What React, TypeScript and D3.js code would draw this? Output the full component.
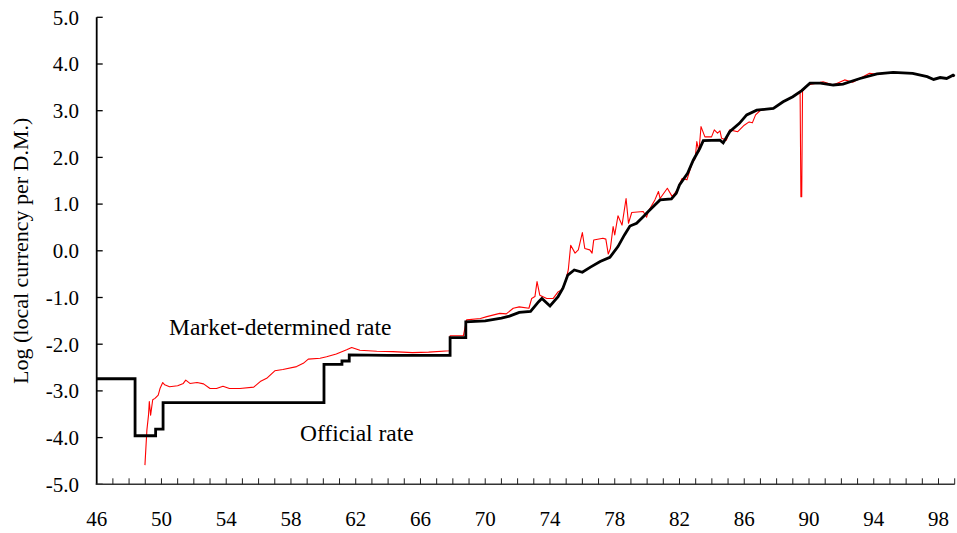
import React from "react";
import * as d3 from "d3";

const W = 957;
const H = 533;

// Official rate (year, log value)
const officialYears: number[] = [46.0, 48.37, 48.37, 49.64, 49.64, 50.1, 50.1, 57.0, 60.04, 60.04, 61.15, 61.15, 61.6, 61.6, 64.0, 66.0, 67.83, 67.83, 68.8, 68.8, 70.0, 71.0, 71.5, 72.1, 72.8, 73.3, 73.5, 74.0, 74.5, 74.8, 75.1, 75.5, 76.0, 76.5, 77.1, 77.7, 78.2, 78.6, 78.94, 79.35, 79.76, 80.07, 80.48, 80.8, 81.5, 81.8, 82.0, 82.5, 82.85, 83.25, 83.47, 84.5, 84.7, 85.1, 85.7, 86.15, 86.77, 87.8, 88.4, 89.0, 89.55, 90.06, 90.7, 91.5, 92.1, 93.15, 94.2, 95.2, 96.4, 97.3, 97.7, 98.1, 98.5, 98.9, 99.0];
const officialValues: number[] = [-2.74, -2.74, -3.96, -3.96, -3.82, -3.82, -3.25, -3.25, -3.25, -2.43, -2.43, -2.36, -2.36, -2.23, -2.24, -2.24, -2.24, -1.86, -1.86, -1.52, -1.50, -1.44, -1.40, -1.32, -1.30, -1.09, -1.02, -1.18, -0.98, -0.80, -0.52, -0.41, -0.46, -0.35, -0.23, -0.14, 0.09, 0.34, 0.53, 0.59, 0.73, 0.84, 0.98, 1.09, 1.11, 1.23, 1.41, 1.66, 1.94, 2.19, 2.36, 2.37, 2.31, 2.55, 2.73, 2.91, 3.01, 3.05, 3.19, 3.30, 3.43, 3.59, 3.59, 3.55, 3.57, 3.69, 3.79, 3.82, 3.80, 3.73, 3.67, 3.71, 3.69, 3.76, 3.74];

// Market-determined rate (year, log value)
const marketYears: number[] = [48.98, 49.1, 49.2, 49.25, 49.33, 49.46, 49.6, 49.8, 49.91, 50.08, 50.2, 50.5, 51.0, 51.35, 51.5, 51.76, 52.2, 52.6, 53.0, 53.4, 53.8, 54.2, 54.85, 55.7, 56.1, 56.5, 57.0, 57.5, 58.35, 58.76, 59.07, 59.8, 60.2, 60.8, 61.44, 61.75, 62.26, 63.3, 64.3, 65.5, 66.5, 67.8, 67.83, 68.65, 68.85, 69.7, 70.1, 70.9, 71.3, 71.73, 72.1, 72.7, 72.87, 73.07, 73.2, 73.37, 73.8, 74.2, 74.5, 74.7, 74.93, 75.13, 75.28, 75.55, 75.75, 76.0, 76.15, 76.46, 76.6, 76.7, 77.27, 77.45, 77.6, 77.73, 77.9, 78.0, 78.2, 78.45, 78.7, 78.85, 79.05, 79.76, 79.97, 80.07, 80.48, 80.7, 80.8, 81.25, 81.55, 81.85, 82.16, 82.46, 82.77, 82.97, 83.07, 83.2, 83.33, 83.57, 83.98, 84.15, 84.35, 84.5, 84.6, 84.9, 85.1, 85.6, 86.0, 86.3, 86.5, 86.7, 87.0, 87.8, 88.4, 89.45, 89.5, 89.55, 89.6, 89.94, 90.87, 91.5, 92.2, 92.7, 93.74, 94.2, 95.2, 96.4, 97.3, 97.7, 98.1, 98.5, 98.9, 99.0];
const marketValues: number[] = [-4.59, -3.84, -3.52, -3.23, -3.52, -3.19, -3.16, -3.09, -2.95, -2.82, -2.87, -2.91, -2.89, -2.84, -2.77, -2.84, -2.82, -2.85, -2.95, -2.95, -2.90, -2.95, -2.95, -2.92, -2.80, -2.73, -2.57, -2.54, -2.48, -2.41, -2.32, -2.30, -2.27, -2.21, -2.12, -2.07, -2.13, -2.15, -2.16, -2.18, -2.17, -2.14, -1.82, -1.82, -1.48, -1.45, -1.41, -1.34, -1.35, -1.23, -1.20, -1.23, -1.02, -0.98, -0.66, -0.95, -1.02, -1.02, -0.88, -0.84, -0.70, -0.41, 0.12, -0.05, 0.02, 0.39, 0.05, 0.02, -0.05, 0.23, 0.27, 0.25, -0.07, 0.05, 0.52, 0.34, 0.75, 0.55, 1.12, 0.59, 0.82, 0.84, 0.72, 0.84, 1.09, 1.27, 1.12, 1.34, 1.16, 1.30, 1.55, 1.52, 1.87, 1.98, 2.34, 2.12, 2.66, 2.44, 2.44, 2.59, 2.52, 2.57, 2.41, 2.37, 2.59, 2.55, 2.69, 2.76, 2.74, 2.91, 3.01, 3.05, 3.19, 3.39, 1.16, 1.16, 3.42, 3.55, 3.62, 3.55, 3.66, 3.61, 3.80, 3.78, 3.82, 3.80, 3.73, 3.67, 3.71, 3.69, 3.76, 3.74];

const yTicks: number[] = [5, 4, 3, 2, 1, 0, -1, -2, -3, -4, -5];
const xLabelYears: number[] = [46, 50, 54, 58, 62, 66, 70, 74, 78, 82, 86, 90, 94, 98];
const yTitle = "Log (local currency per D.M.)";
const marketLabel = "Market-determined rate";
const officialLabel = "Official rate";

const FONT = "'Liberation Serif', 'Times New Roman', Times, serif";

export default function App() {
  const x = d3.scaleLinear().domain([46, 99]).range([96.7, 954.7]);
  const y = d3.scaleLinear().domain([-5, 5]).range([484.3, 17.3]);

  const line = d3
    .line<[number, number]>()
    .x((d) => x(d[0]))
    .y((d) => y(d[1]));

  const official: [number, number][] = officialYears.map((yr, i) => [yr, officialValues[i]]);
  const market: [number, number][] = marketYears.map((yr, i) => [yr, marketValues[i]]);

  const minorTicks = d3.range(47, 100);

  return (
    <svg
      width={W}
      height={H}
      style={{ position: "absolute", left: 0, top: 0, background: "#fff" }}
      fontFamily={FONT}
    >
      <rect x={0} y={0} width={W} height={H} fill="#fff" />
      {/* market rate */}
      <path d={line(market) || ""} fill="none" stroke="#ff0000" strokeWidth={1.1} strokeLinejoin="round" />
      {/* official rate */}
      <path d={line(official) || ""} fill="none" stroke="#000" strokeWidth={2.8} strokeLinejoin="miter" />

      {/* y axis */}
      <line x1={x(46)} x2={x(46)} y1={y(5)} y2={y(-5)} stroke="#000" strokeWidth={1.8} />
      {yTicks.map((t) => (
        <g key={t}>
          <line x1={x(46)} x2={x(46) + 6} y1={y(t)} y2={y(t)} stroke="#000" strokeWidth={1.3} />
          <text
            x={79}
            y={y(t)}
            dy="0.35em"
            textAnchor="end"
            fontSize={21}
            fill="#000"
          >
            {t.toFixed(1)}
          </text>
        </g>
      ))}

      {/* x axis */}
      <line x1={x(46) - 1} x2={x(99)} y1={y(-5)} y2={y(-5)} stroke="#333" strokeWidth={1.6} />
      {minorTicks.map((t) => (
        <line key={t} x1={x(t)} x2={x(t)} y1={y(-5)} y2={y(-5) - 6} stroke="#222" strokeWidth={1} />
      ))}
      {xLabelYears.map((t) => (
        <text key={t} x={x(t)} y={526} textAnchor="middle" fontSize={21} fill="#000">
          {t}
        </text>
      ))}

      {/* y title */}
      <text
        transform={`translate(28, ${y(0)}) rotate(-90)`}
        textAnchor="middle"
        fontSize={22}
        fill="#000"
      >
        {yTitle}
      </text>

      {/* annotations */}
      <text x={169} y={335} fontSize={23.5} fill="#000">
        {marketLabel}
      </text>
      <text x={300} y={441} fontSize={23.5} fill="#000">
        {officialLabel}
      </text>
    </svg>
  );
}
